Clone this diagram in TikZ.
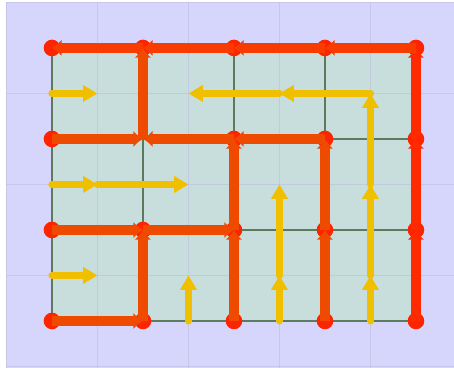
\documentclass[tikz,border=0pt]{standalone}
\usepackage{xcolor}
\usepackage{tikz}
\usetikzlibrary{arrows.meta}
\definecolor{tilebg}{HTML}{D6D6FC}
\definecolor{tileline}{HTML}{BEBEE0}
\definecolor{cellbg}{HTML}{C7DEDC}
\definecolor{cellline}{HTML}{5E7A5E}
\definecolor{dotred}{HTML}{FF2400}
\definecolor{rimred}{HTML}{FF2A00}
\definecolor{toprow}{HTML}{F83C00}
\definecolor{treeorange}{HTML}{EE4A00}
\definecolor{flowyellow}{HTML}{F0C000}
\tikzset{
  treeedge/.style={line width=5.9pt, -{Latex[length=6pt,width=10.5pt]}},
  flowedge/.style={flowyellow, line width=4.5pt, line cap=round,
    -{Triangle[length=9pt,width=10pt]}},
}

\begin{document}
\begin{tikzpicture}[x=2cm,y=2cm]
      \useasboundingbox (-0.571,-0.516) rectangle (4.418,3.527);
      % backdrop and cells
      \fill[tilebg] (-0.505,-0.6) rectangle (4.5,3.505);
      \fill[cellbg] (0,0) rectangle (4,3);
      \foreach \k in {-0.5,0.5,...,3.5}{
        \draw[tileline, opacity=0.6, line width=0.6pt] (\k,-0.6) -- (\k,3.505);
        \draw[tileline, opacity=0.6, line width=0.6pt] (-0.505,\k) -- (4.5,\k);
      }
      \draw[cellline, line width=0.9pt, step=2cm] (0,0) grid (4,3);
      \foreach \i in {0,...,4}{ \foreach \j in {0,...,3}{
          \coordinate (g\i\j) at (\i,\j);
      }}
      \foreach \i in {0,...,8}{ \foreach \j in {0,...,6}{
          \coordinate (h\i-\j) at ({\i/2},{\j/2});
      }}
      % tree nodes
      \foreach \p in {00,10,20,30,40,01,11,21,31,41,02,22,32,42,03,13,23,33,43}
        \fill[dotred] (g\p) circle (5.2pt);
      % rim of the tree
      \foreach \a/\b in {g40/g41, g41/g42, g42/g43}
        \draw[treeedge, rimred] (\a) -- (\b);
      \foreach \a/\b in {g43/g33, g33/g23, g23/g13, g13/g03}
        \draw[treeedge, toprow] (\a) -- (\b);
      % inner branches
      \foreach \a/\b in {g02/g12, g22/g12, g12/g13, g32/g22, g21/g22, g11/g21,
          g01/g11, g10/g11, g20/g21, g30/g31, g31/g32, g00/g10}
        \draw[treeedge, treeorange] (\a) -- (\b);
      % flow arrows
      \foreach \a/\b in {h0-5/h1-5, h0-3/h1-3, h1-3/h3-3, h0-1/h1-1, h3-0/h3-1,
          h5-0/h5-1, h5-1/h5-3, h7-0/h7-1, h7-1/h7-3, h7-3/h7-5, h7-5/h5-5, h5-5/h3-5}
        \draw[flowedge] (\a) -- (\b);
    \end{tikzpicture}
\end{document}
